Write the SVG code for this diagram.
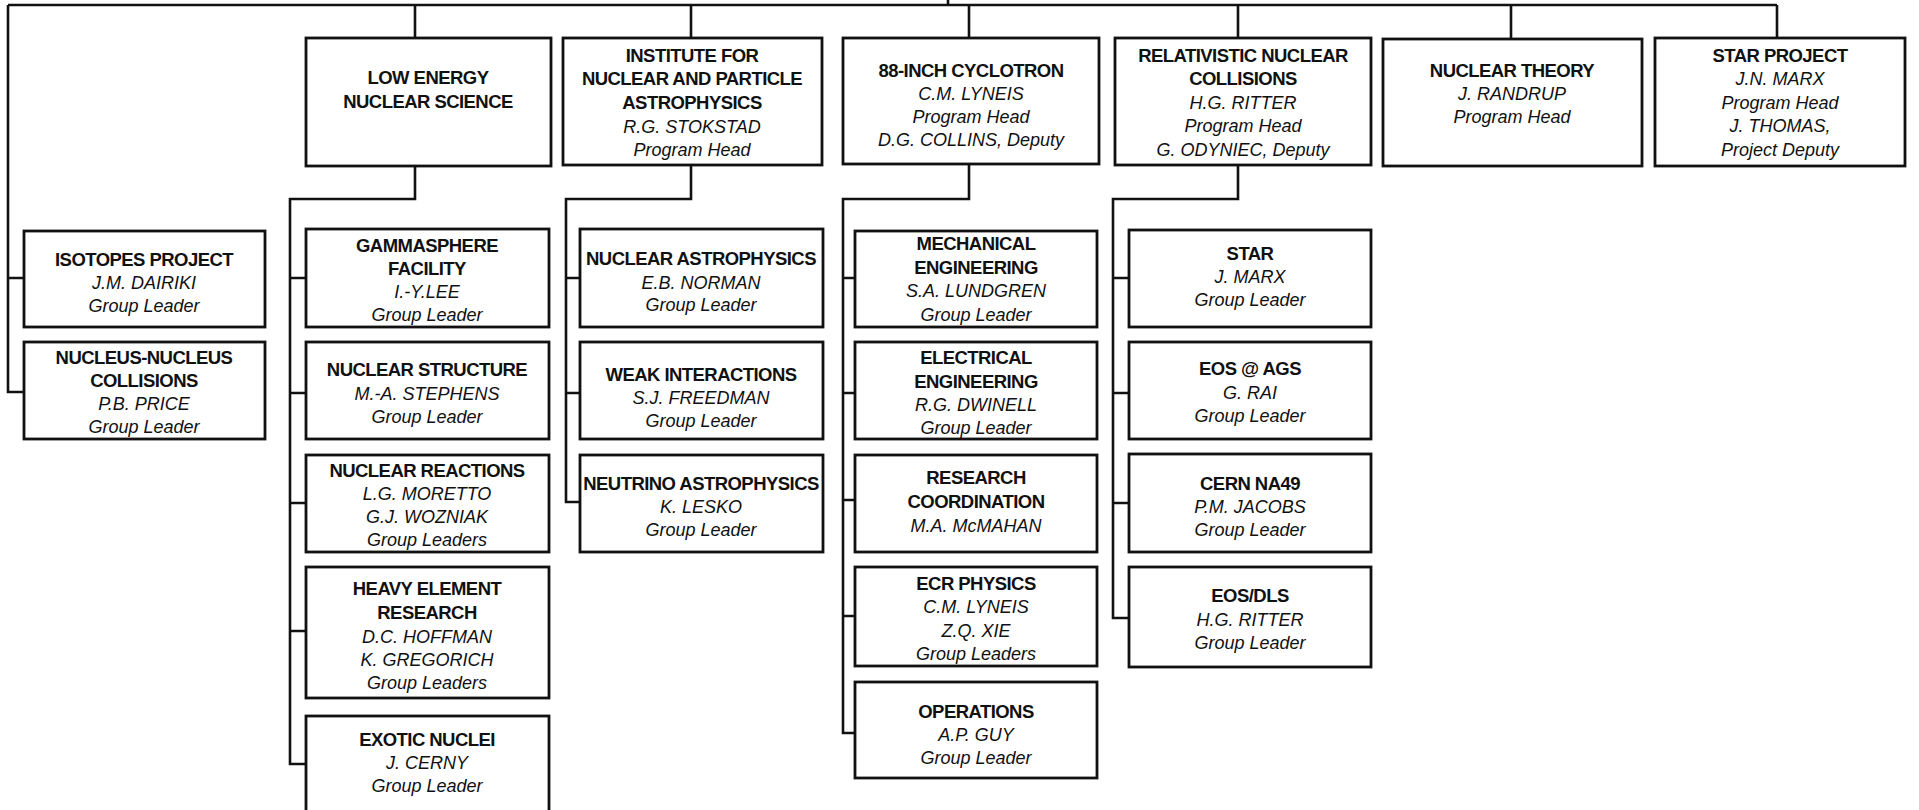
<svg xmlns="http://www.w3.org/2000/svg" width="1919" height="810" viewBox="0 0 1919 810">
<style>
.bg{fill:#fff}
.box{fill:#fff;stroke:#111;stroke-width:2.8}
.ln{fill:none;stroke:#111;stroke-width:2.6}
text{font-family:"Liberation Sans",Arial,Helvetica,sans-serif;font-size:18px;text-anchor:middle;fill:#111}
.b{font-weight:bold;font-size:18.5px;letter-spacing:-0.55px}
.i{font-style:italic}
</style>
<rect class="bg" x="0" y="0" width="1919" height="810"/>
<g id="connectors">
<path class="ln" d="M948,0 V5 M8,5 H1777 M415,5 V38 M691,5 V38 M969,5 V38 M1238,5 V38 M1511,5 V39 M1777,5 V38"/>
<path class="ln" d="M8,5 V392 H24 M8,278 H24"/>
<path class="ln" d="M415,166 V199 H290 V764 H306 M290,278 H306 M290,393 H306 M290,503 H306 M290,631 H306"/>
<path class="ln" d="M691,165 V199 H566 V502 H580 M566,278 H580 M566,393 H580"/>
<path class="ln" d="M969,164 V199 H843 V733 H855 M843,278 H855 M843,393 H855 M843,500 H855 M843,616 H855"/>
<path class="ln" d="M1238,165 V199 H1113 V618 H1129 M1113,278 H1129 M1113,393 H1129 M1113,503 H1129"/>
</g>
<g id="n-low">
<rect class="box" x="306" y="38" width="245" height="128"/>
<text class="b" x="428" y="84">LOW ENERGY</text>
<text class="b" x="428" y="108">NUCLEAR SCIENCE</text>
</g>
<g id="n-inst">
<rect class="box" x="563" y="38" width="259" height="127"/>
<text class="b" x="692" y="62">INSTITUTE FOR</text>
<text class="b" x="692" y="85">NUCLEAR AND PARTICLE</text>
<text class="b" x="692" y="109">ASTROPHYSICS</text>
<text class="i" x="692" y="133">R.G. STOKSTAD</text>
<text class="i" x="692" y="156">Program Head</text>
</g>
<g id="n-88">
<rect class="box" x="843" y="38" width="256" height="126"/>
<text class="b" x="971" y="77">88-INCH CYCLOTRON</text>
<text class="i" x="971" y="100">C.M. LYNEIS</text>
<text class="i" x="971" y="123">Program Head</text>
<text class="i" x="971" y="146">D.G. COLLINS, Deputy</text>
</g>
<g id="n-rel">
<rect class="box" x="1115" y="38" width="256" height="127"/>
<text class="b" x="1243" y="62">RELATIVISTIC NUCLEAR</text>
<text class="b" x="1243" y="85">COLLISIONS</text>
<text class="i" x="1243" y="109">H.G. RITTER</text>
<text class="i" x="1243" y="132">Program Head</text>
<text class="i" x="1243" y="156">G. ODYNIEC, Deputy</text>
</g>
<g id="n-theory">
<rect class="box" x="1383" y="39" width="259" height="127"/>
<text class="b" x="1512" y="77">NUCLEAR THEORY</text>
<text class="i" x="1512" y="100">J. RANDRUP</text>
<text class="i" x="1512" y="123">Program Head</text>
</g>
<g id="n-starp">
<rect class="box" x="1655" y="38" width="250" height="128"/>
<text class="b" x="1780" y="62">STAR PROJECT</text>
<text class="i" x="1780" y="85">J.N. MARX</text>
<text class="i" x="1780" y="109">Program Head</text>
<text class="i" x="1780" y="132">J. THOMAS,</text>
<text class="i" x="1780" y="156">Project Deputy</text>
</g>
<g id="n-iso">
<rect class="box" x="24" y="231" width="241" height="96"/>
<text class="b" x="144" y="266">ISOTOPES PROJECT</text>
<text class="i" x="144" y="289">J.M. DAIRIKI</text>
<text class="i" x="144" y="312">Group Leader</text>
</g>
<g id="n-nn">
<rect class="box" x="24" y="342" width="241" height="97"/>
<text class="b" x="144" y="364">NUCLEUS-NUCLEUS</text>
<text class="b" x="144" y="387">COLLISIONS</text>
<text class="i" x="144" y="410">P.B. PRICE</text>
<text class="i" x="144" y="433">Group Leader</text>
</g>
<g id="n-gamma">
<rect class="box" x="306" y="229" width="243" height="98"/>
<text class="b" x="427" y="252">GAMMASPHERE</text>
<text class="b" x="427" y="275">FACILITY</text>
<text class="i" x="427" y="298">I.-Y.LEE</text>
<text class="i" x="427" y="321">Group Leader</text>
</g>
<g id="n-nstruct">
<rect class="box" x="306" y="342" width="243" height="97"/>
<text class="b" x="427" y="376">NUCLEAR STRUCTURE</text>
<text class="i" x="427" y="400">M.-A. STEPHENS</text>
<text class="i" x="427" y="423">Group Leader</text>
</g>
<g id="n-nreact">
<rect class="box" x="306" y="455" width="243" height="97"/>
<text class="b" x="427" y="477">NUCLEAR REACTIONS</text>
<text class="i" x="427" y="500">L.G. MORETTO</text>
<text class="i" x="427" y="523">G.J. WOZNIAK</text>
<text class="i" x="427" y="546">Group Leaders</text>
</g>
<g id="n-heavy">
<rect class="box" x="306" y="567" width="243" height="131"/>
<text class="b" x="427" y="595">HEAVY ELEMENT</text>
<text class="b" x="427" y="619">RESEARCH</text>
<text class="i" x="427" y="643">D.C. HOFFMAN</text>
<text class="i" x="427" y="666">K. GREGORICH</text>
<text class="i" x="427" y="689">Group Leaders</text>
</g>
<g id="n-exotic">
<rect class="box" x="306" y="716" width="243" height="104"/>
<text class="b" x="427" y="746">EXOTIC NUCLEI</text>
<text class="i" x="427" y="769">J. CERNY</text>
<text class="i" x="427" y="792">Group Leader</text>
</g>
<g id="n-nastro">
<rect class="box" x="580" y="229" width="243" height="98"/>
<text class="b" x="701" y="265">NUCLEAR ASTROPHYSICS</text>
<text class="i" x="701" y="289">E.B. NORMAN</text>
<text class="i" x="701" y="311">Group Leader</text>
</g>
<g id="n-weak">
<rect class="box" x="580" y="342" width="243" height="97"/>
<text class="b" x="701" y="381">WEAK INTERACTIONS</text>
<text class="i" x="701" y="404">S.J. FREEDMAN</text>
<text class="i" x="701" y="427">Group Leader</text>
</g>
<g id="n-neutrino">
<rect class="box" x="580" y="455" width="243" height="97"/>
<text class="b" x="701" y="490">NEUTRINO ASTROPHYSICS</text>
<text class="i" x="701" y="513">K. LESKO</text>
<text class="i" x="701" y="536">Group Leader</text>
</g>
<g id="n-mech">
<rect class="box" x="855" y="231" width="242" height="96"/>
<text class="b" x="976" y="250">MECHANICAL</text>
<text class="b" x="976" y="274">ENGINEERING</text>
<text class="i" x="976" y="297">S.A. LUNDGREN</text>
<text class="i" x="976" y="321">Group Leader</text>
</g>
<g id="n-elec">
<rect class="box" x="855" y="342" width="242" height="97"/>
<text class="b" x="976" y="364">ELECTRICAL</text>
<text class="b" x="976" y="388">ENGINEERING</text>
<text class="i" x="976" y="411">R.G. DWINELL</text>
<text class="i" x="976" y="434">Group Leader</text>
</g>
<g id="n-rescoord">
<rect class="box" x="855" y="455" width="242" height="97"/>
<text class="b" x="976" y="484">RESEARCH</text>
<text class="b" x="976" y="508">COORDINATION</text>
<text class="i" x="976" y="532">M.A. McMAHAN</text>
</g>
<g id="n-ecr">
<rect class="box" x="855" y="567" width="242" height="99"/>
<text class="b" x="976" y="590">ECR PHYSICS</text>
<text class="i" x="976" y="613">C.M. LYNEIS</text>
<text class="i" x="976" y="637">Z.Q. XIE</text>
<text class="i" x="976" y="660">Group Leaders</text>
</g>
<g id="n-ops">
<rect class="box" x="855" y="682" width="242" height="96"/>
<text class="b" x="976" y="718">OPERATIONS</text>
<text class="i" x="976" y="741">A.P. GUY</text>
<text class="i" x="976" y="764">Group Leader</text>
</g>
<g id="n-star">
<rect class="box" x="1129" y="230" width="242" height="97"/>
<text class="b" x="1250" y="260">STAR</text>
<text class="i" x="1250" y="283">J. MARX</text>
<text class="i" x="1250" y="306">Group Leader</text>
</g>
<g id="n-eos">
<rect class="box" x="1129" y="342" width="242" height="97"/>
<text class="b" x="1250" y="375">EOS @ AGS</text>
<text class="i" x="1250" y="399">G. RAI</text>
<text class="i" x="1250" y="422">Group Leader</text>
</g>
<g id="n-cern">
<rect class="box" x="1129" y="454" width="242" height="98"/>
<text class="b" x="1250" y="490">CERN NA49</text>
<text class="i" x="1250" y="513">P.M. JACOBS</text>
<text class="i" x="1250" y="536">Group Leader</text>
</g>
<g id="n-eosdls">
<rect class="box" x="1129" y="567" width="242" height="100"/>
<text class="b" x="1250" y="602">EOS/DLS</text>
<text class="i" x="1250" y="626">H.G. RITTER</text>
<text class="i" x="1250" y="649">Group Leader</text>
</g>
</svg>
